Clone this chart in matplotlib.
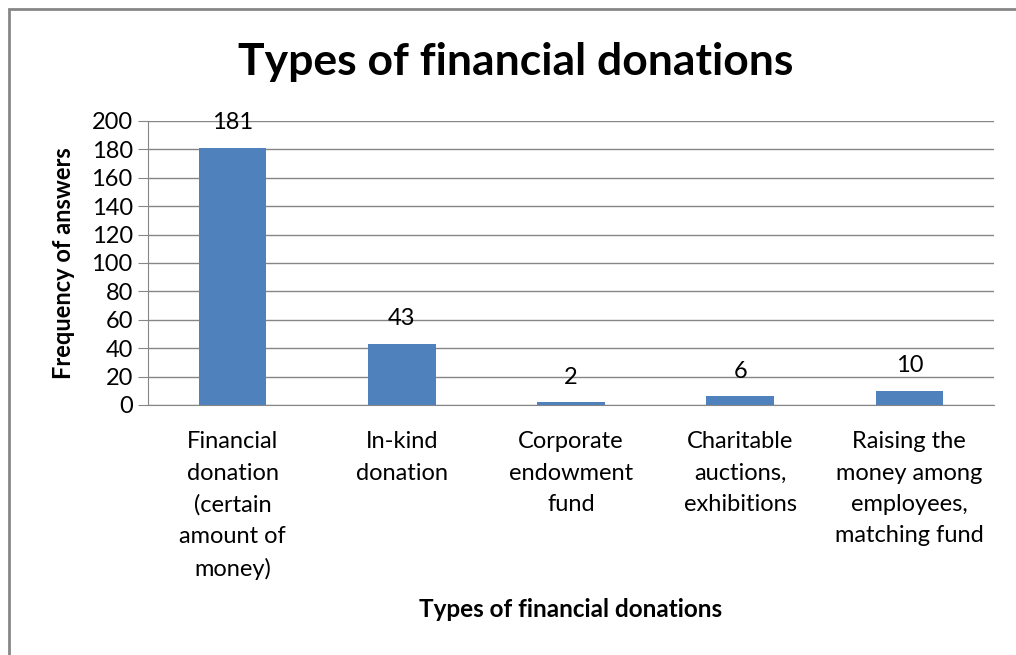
import matplotlib.pyplot as plt
from matplotlib.patches import Rectangle

# Survey answers per donation type
categories = [
    "Financial\ndonation\n(certain\namount of\nmoney)",
    "In-kind\ndonation",
    "Corporate\nendowment\nfund",
    "Charitable\nauctions,\nexhibitions",
    "Raising the\nmoney among\nemployees,\nmatching fund",
]
answers = [181, 43, 2, 6, 10]
y_ticks = list(range(0, 201, 20))

plt.rcParams['font.family'] = ['Lato', 'DejaVu Sans']

fig = plt.figure(figsize=(10.16, 6.55), dpi=100)
ax = fig.add_axes([0.1457, 0.3817, 0.8326, 0.4336])

x = range(len(answers))
bars = ax.bar(x, answers, width=0.4, color='#4F81BD', zorder=3)
for b, v in zip(bars, answers):
    ax.annotate(str(v), (b.get_x() + b.get_width() / 2, v), xytext=(0, 18),
                textcoords='offset points', ha='center', va='center', fontsize=17)

ax.set_xlim(-0.5, len(answers) - 0.5)
ax.set_ylim(0, 200)
ax.set_yticks(y_ticks)
ax.set_yticklabels([str(t) for t in y_ticks], fontsize=17)
ax.set_xticks(list(x))
ax.set_xticklabels(categories, fontsize=17, linespacing=1.6, va='top')
ax.tick_params(axis='x', length=0, pad=19)
ax.tick_params(axis='y', length=7, color='#868686', pad=4)
ax.grid(axis='y', color='#868686', linewidth=1, zorder=0)

for side in ['top', 'right']:
    ax.spines[side].set_visible(False)
ax.spines['left'].set_color('#868686')
ax.spines['bottom'].set_color('#868686')

ax.set_ylabel('Frequency of answers', fontsize=17, fontweight='bold', labelpad=12)
ax.set_xlabel('Types of financial donations', fontsize=17.5, fontweight='bold', labelpad=13)
fig.text(0.508, 0.905, 'Types of financial donations', ha='center', va='center',
         fontsize=32, fontweight='bold')

# chart frame
fig.patches.append(Rectangle((9 / 1016, -0.1), 1.2, 1 - 9 / 655 + 0.1,
                             transform=fig.transFigure, fill=False,
                             edgecolor='#868686', linewidth=2))

fig.savefig('out.png', dpi=100)
